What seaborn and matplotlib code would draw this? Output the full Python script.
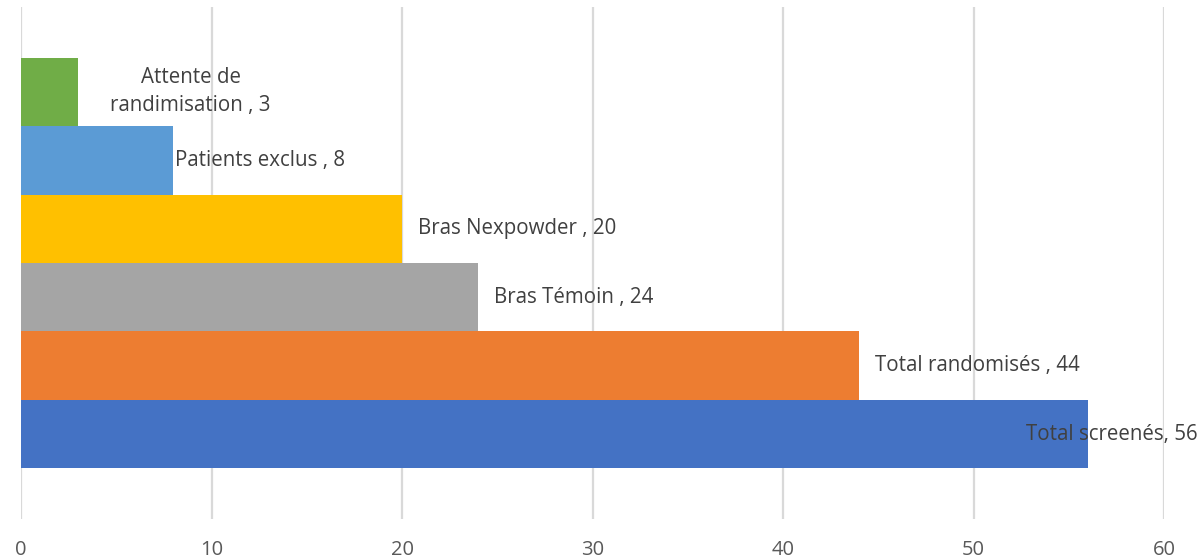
import matplotlib
matplotlib.use("Agg")
import matplotlib.pyplot as plt
import matplotlib.transforms as mtransforms
import seaborn as sns
import pandas as pd

# data, top to bottom
categories = ["Attente de\nrandimisation", "Patients exclus", "Bras Nexpowder",
              "Bras Témoin", "Total randomisés", "Total screenés"]
values = [3, 8, 20, 24, 44, 56]
label_texts = ["Attente de\nrandimisation , 3", "Patients exclus , 8", "Bras Nexpowder , 20",
               "Bras Témoin , 24", "Total randomisés , 44", "Total screenés, 56"]
colors = ["#70AD47", "#5B9BD5", "#FFC000", "#A5A5A5", "#ED7D31", "#4472C4"]

df = pd.DataFrame({"cat": categories, "val": values})

sns.set_style("white")
plt.rcParams["font.family"] = ["Open Sans", "DejaVu Sans"]

fig = plt.figure(figsize=(12.01, 5.58), dpi=100)
ax = fig.add_axes([21 / 1201, 39 / 558, (1164 - 21) / 1201, (519 - 7) / 558])

sns.barplot(data=df, x="val", y="cat", hue="cat", palette=colors, order=categories,
            width=1.0, legend=False, ax=ax, saturation=1, linewidth=0)

ax.set_xlim(0, 60)
ax.set_ylim(5 + 1.24, -1.24)
ax.set_xticks(range(0, 61, 10))
ax.set_yticks([])
ax.set_xlabel("")
ax.set_ylabel("")
ax.grid(axis="x", color="#D9D9D9", linewidth=1.6)
ax.set_axisbelow(True)
for s in ax.spines.values():
    s.set_visible(False)
ax.tick_params(axis="x", length=0, pad=15, labelsize=14.5, labelcolor="#595959")

fs = 14.8
# data labels beside bars
for i, (v, t) in enumerate(zip(values, label_texts)):
    if i == 0:
        ax.text(v + 5.9, i, t, ha="center", va="center", fontsize=fs,
                color="#404040", linespacing=1.45)
    elif i == len(values) - 1:
        ax.text(61.75, i, t, ha="right", va="center", fontsize=fs, color="#404040")
    else:
        off = 2 if i == 1 else 16
        trans = mtransforms.offset_copy(ax.transData, fig=fig, x=off, y=0, units="dots")
        ax.text(v, i, t, ha="left", va="center", fontsize=fs, color="#404040",
                transform=trans)

fig.savefig("out.png", dpi=100)
